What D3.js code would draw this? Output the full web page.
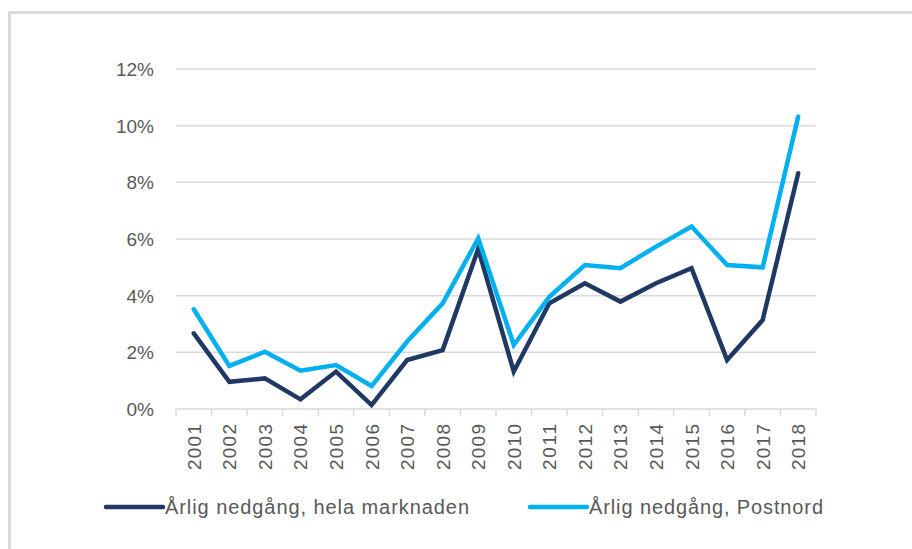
<!DOCTYPE html>
<html>
<head>
<meta charset="utf-8">
<script src="https://cdn.jsdelivr.net/npm/d3@7"></script>
<style>
  body { margin: 0; background: #fff; }
  svg text { font-family: "Liberation Sans", Arial, sans-serif; fill: #595959; }
</style>
</head>
<body>
<svg id="chart" width="912" height="549"></svg>
<script>
// values (percent)
const years = ["2001","2002","2003","2004","2005","2006","2007","2008","2009",
               "2010","2011","2012","2013","2014","2015","2016","2017","2018"];
const helaMarknaden = [2.67, 0.96, 1.08, 0.34, 1.32, 0.14, 1.73, 2.08, 5.65,
                       1.32, 3.73, 4.44, 3.79, 4.44, 4.97, 1.73, 3.14, 8.32];
const postnord = [3.52, 1.52, 2.02, 1.35, 1.55, 0.81, 2.38, 3.73, 6.02,
                  2.26, 3.96, 5.08, 4.97, 5.73, 6.44, 5.08, 5.0, 10.32];
const yTicks = [0, 2, 4, 6, 8, 10, 12];
const seriesNames = ["Årlig nedgång, hela marknaden", "Årlig nedgång, Postnord"];
const seriesColors = ["#1f3864", "#00b0f0"];

let svg = d3.select("#chart"),
    plotLeft = 176, plotRight = 816, plotTop = 69, plotBottom = 409;

// outer frame like the copied chart area
svg.append("rect")
    .attr("x", 9.5).attr("y", 12.5)
    .attr("width", 940).attr("height", 560)
    .attr("fill", "none").attr("stroke", "#d9d9d9").attr("stroke-width", 3);

let x = d3.scaleBand().domain(years).range([plotLeft, plotRight]);
let y = d3.scaleLinear().domain([0, 12]).range([plotBottom, plotTop]);

// gridlines
svg.append("g")
    .selectAll("line").data(yTicks.filter(d => d > 0)).enter().append("line")
    .attr("x1", plotLeft).attr("x2", plotRight)
    .attr("y1", d => y(d)).attr("y2", d => y(d))
    .attr("stroke", "#d9d9d9").attr("stroke-width", 1.5);

// y labels
let yAxis = svg.append("g")
    .attr("transform", "translate(" + (plotLeft - 22) + ",0)")
    .call(d3.axisLeft(y).tickValues(yTicks).tickSize(0).tickPadding(0).tickFormat(d => d + "%"));
yAxis.select(".domain").remove();
yAxis.selectAll("text").style("font-size", "19px").attr("dy", "0.35em");

// x axis line and ticks between categories
let xg = svg.append("g");
xg.append("line")
    .attr("x1", plotLeft).attr("x2", plotRight).attr("y1", plotBottom).attr("y2", plotBottom)
    .attr("stroke", "#d9d9d9").attr("stroke-width", 1.5);
xg.selectAll(".tk").data(d3.range(years.length + 1)).enter().append("line")
    .attr("x1", i => plotLeft + i * x.step()).attr("x2", i => plotLeft + i * x.step())
    .attr("y1", plotBottom).attr("y2", plotBottom + 7)
    .attr("stroke", "#d9d9d9").attr("stroke-width", 1.5);
xg.selectAll("text").data(years).enter().append("text")
    .attr("transform", d => "translate(" + (x(d) + x.bandwidth() / 2 + 7) + "," + (plotBottom + 15) + ") rotate(-90)")
    .attr("text-anchor", "end")
    .attr("textLength", 46)
    .attr("lengthAdjust", "spacing")
    .style("font-size", "19px")
    .text(d => d);

// lines
let line = d3.line()
    .x((d, i) => x(years[i]) + x.bandwidth() / 2)
    .y(d => y(d));

[helaMarknaden, postnord].forEach((s, k) => {
    svg.append("path")
        .datum(s)
        .attr("d", line)
        .attr("fill", "none")
        .attr("stroke", seriesColors[k])
        .attr("stroke-width", 4.5)
        .attr("stroke-linejoin", "miter")
        .attr("stroke-linecap", "round");
});

// legend
let legendX = [106, 530],
    legendW = [304, 234];
let legend = svg.append("g");
seriesNames.forEach((name, k) => {
    legend.append("line")
        .attr("x1", legendX[k]).attr("x2", legendX[k] + 57)
        .attr("y1", 507).attr("y2", 507)
        .attr("stroke", seriesColors[k]).attr("stroke-width", 4.5)
        .attr("stroke-linecap", "round");
    legend.append("text")
        .attr("x", legendX[k] + 59).attr("y", 514)
        .attr("textLength", legendW[k])
        .attr("lengthAdjust", "spacing")
        .style("font-size", "20px")
        .text(name);
});
</script>
</body>
</html>
